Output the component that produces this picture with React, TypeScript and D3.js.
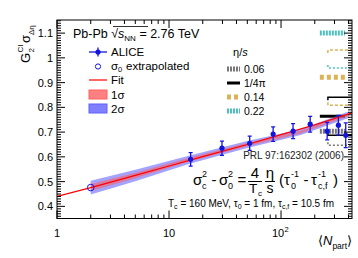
import React from 'react'
import * as d3 from 'd3'

// ALICE points, Pb-Pb 2.76 TeV
const npart = [15.6, 29.7, 52.5, 85, 128, 182, 258, 325, 378]
const g2Width = [0.590, 0.635, 0.655, 0.692, 0.704, 0.732, 0.704, 0.728, 0.687]
const g2Err = [0.027, 0.029, 0.029, 0.029, 0.030, 0.032, 0.035, 0.040, 0.050]

// sigma_0 extrapolated
const extrapN = [2]
const extrapVal = [0.476]

// fit curve and bands
const fitN = [1, 2, 5, 10, 20, 50, 100, 200, 430]
const fitVal = [0.440, 0.476, 0.525, 0.563, 0.601, 0.650, 0.690, 0.729, 0.778]
const bandN = [2, 5, 15, 50, 150, 400]
const band2Lo = [0.448, 0.502, 0.571, 0.636, 0.688, 0.757]
const band2Hi = [0.504, 0.548, 0.605, 0.664, 0.712, 0.783]
const band1Lo = [0.462, 0.514, 0.580, 0.643, 0.694, 0.764]
const band1Hi = [0.490, 0.536, 0.596, 0.657, 0.706, 0.776]

// hydro predictions for several eta/s
const etaLabels = ['0.06', '1/4\u03c0', '0.14', '0.22']
const hydroFilled = [0.704, 0.764, 0.922, 1.100]
const hydroOpenLo = [0.647, 0.687, 0.809, 0.959]
const hydroOpenHi = [null, 0.841, 1.032, null]
const hydroFilledRange = [222, 372]
const hydroOpenRange = [262, 470]

const xMajor = [1, 10, 100]
const xMinor = [2, 3, 4, 5, 6, 7, 8, 9, 20, 30, 40, 50, 60, 70, 80, 90, 200, 300, 400]
const yMajor = [0.4, 0.5, 0.6, 0.7, 0.8, 0.9, 1, 1.1]

const etaColors = ['#777777', '#000000', '#d9b356', '#4fc0c0']
const etaWidth = [5, 3, 5, 5]
const etaDash = ['2 1', null, '4 3', '2 1']
const openDash = ['2 2', null, '3 2', '2 2']

const FONT = '"Liberation Sans", Arial, sans-serif'
const BLUE = '#1414e0'

export default function App() {
  const x = d3.scaleLog().domain([1, 430]).range([57, 352])
  const y = d3.scaleLinear().domain([0.351, 1.153]).range([218.5, 20])
  const [x0, x1] = x.range()
  const [yb, yt] = y.range()

  const yMinor = d3.range(36, 116).map(v => v / 100).filter(v => Math.round(v * 100) % 10 !== 0)

  const line = d3.line<number>().x((d, i) => x(fitN[i])).y(d => y(d))
  const area2 = d3.area<number>().x((d, i) => x(bandN[i])).y0((d, i) => y(band2Lo[i])).y1((d, i) => y(band2Hi[i]))
  const area1 = d3.area<number>().x((d, i) => x(bandN[i])).y0((d, i) => y(band1Lo[i])).y1((d, i) => y(band1Hi[i]))

  const legY = [52, 66.5, 80, 94.5, 108.5]
  const etaLegY = [69, 83, 97, 111]

  return (
    <svg width={358} height={258} style={{ position: 'absolute', left: 0, top: 0, background: '#fff' }} fontFamily={FONT}>
      <defs>
        <clipPath id="plot"><rect x={x0} y={yt} width={x1 - x0} height={yb - yt} /></clipPath>
      </defs>

      <g clipPath="url(#plot)">
        {/* hydro filled */}
        {hydroFilled.map((v, i) => (
          <line key={'hf' + i} x1={x(hydroFilledRange[0])} x2={x(hydroFilledRange[1])} y1={y(v)} y2={y(v)}
            stroke={etaColors[i]} strokeWidth={etaWidth[i]} strokeDasharray={etaDash[i] ?? undefined} />
        ))}
        {/* hydro open brackets */}
        {hydroOpenLo.map((v, i) => {
          const xa = x(hydroOpenRange[0]), xb = x(hydroOpenRange[1])
          return (
            <path key={'hl' + i} d={`M${xa},${y(v) - 3}V${y(v)}H${xb}`} fill="none"
              stroke={etaColors[i]} strokeWidth={1.5} strokeDasharray={openDash[i] ?? undefined} />
          )
        })}
        {hydroOpenHi.map((v, i) => {
          if (v == null) return null
          const xa = x(hydroOpenRange[0]), xb = x(hydroOpenRange[1])
          return (
            <path key={'hh' + i} d={`M${xa},${y(v) + 3}V${y(v)}H${xb}`} fill="none"
              stroke={etaColors[i]} strokeWidth={1.5} strokeDasharray={openDash[i] ?? undefined} />
          )
        })}

        <path d={area2(band2Lo) ?? ''} fill="#5a5aff" fillOpacity={0.55} />
        <path d={area1(band1Lo) ?? ''} fill="#ff5a5a" fillOpacity={0.55} />
        <path d={line(fitVal) ?? ''} fill="none" stroke="#ff0000" strokeWidth={1.2} />

        {extrapN.map((n, i) => (
          <circle key={'e' + i} cx={x(n)} cy={y(extrapVal[i])} r={3.3} fill="none" stroke={BLUE} strokeWidth={1} />
        ))}

        {npart.map((n, i) => {
          const cx = x(n)
          const top = y(g2Width[i] + g2Err[i]), bot = y(g2Width[i] - g2Err[i])
          return (
            <g key={'p' + i} stroke={BLUE} strokeWidth={1.3}>
              <line x1={cx} x2={cx} y1={top} y2={bot} />
              <line x1={cx - 2} x2={cx + 2} y1={top} y2={top} />
              <line x1={cx - 2} x2={cx + 2} y1={bot} y2={bot} />
              <circle cx={cx} cy={y(g2Width[i])} r={2.6} fill={BLUE} stroke="none" />
            </g>
          )
        })}
      </g>

      {/* frame and ticks */}
      <rect x={x0} y={yt} width={x1 - x0} height={yb - yt} fill="none" stroke="#000" strokeWidth={1} />
      <g stroke="#000" strokeWidth={1}>
        {xMajor.map(v => (
          <g key={'xM' + v}>
            <line x1={x(v)} x2={x(v)} y1={yb} y2={yb - 8} />
            <line x1={x(v)} x2={x(v)} y1={yt} y2={yt + 8} />
          </g>
        ))}
        {xMinor.map(v => (
          <g key={'xm' + v}>
            <line x1={x(v)} x2={x(v)} y1={yb} y2={yb - 4} />
            <line x1={x(v)} x2={x(v)} y1={yt} y2={yt + 4} />
          </g>
        ))}
        {yMajor.map(v => (
          <g key={'yM' + v}>
            <line x1={x0} x2={x0 + 8} y1={y(v)} y2={y(v)} />
            <line x1={x1} x2={x1 - 8} y1={y(v)} y2={y(v)} />
          </g>
        ))}
        {yMinor.map(v => (
          <g key={'ym' + v}>
            <line x1={x0} x2={x0 + 4} y1={y(v)} y2={y(v)} />
            <line x1={x1} x2={x1 - 4} y1={y(v)} y2={y(v)} />
          </g>
        ))}
      </g>

      {/* tick labels */}
      <g fontSize={11} fill="#000">
        {yMajor.map(v => (
          <text key={'yl' + v} x={x0 - 4} y={y(v) + 4} textAnchor="end">{d3.format('~g')(v)}</text>
        ))}
        <text x={x(1)} y={237} textAnchor="middle">1</text>
        <text x={x(10)} y={237} textAnchor="middle">10</text>
        <text x={x(100) - 3} y={237} textAnchor="middle">10</text>
        <text x={x(100) + 3.5} y={232} fontSize={7.5}>2</text>
      </g>

      {/* axis titles */}
      <g transform="translate(30,63) rotate(-90)">
        <text x={0} y={0} fontSize={13}>G</text>
        <text x={10.5} y={-7} fontSize={8}>CI</text>
        <text x={10.5} y={3.5} fontSize={8}>2</text>
        <text x={20} y={0} fontSize={13}>{'\u03c3'}</text>
        <text x={28} y={3.5} fontSize={8}>{'\u0394\u03b7'}</text>
      </g>
      <text x={318} y={245} fontSize={13}>
        {'\u27e8'}<tspan fontStyle="italic">N</tspan><tspan fontSize={8.5} dy={4}>part</tspan><tspan dy={-4}>{'\u27e9'}</tspan>
      </text>

      {/* header */}
      <text x={73} y={38} fontSize={12.5}>
        Pb-Pb <tspan>{'\u221a'}</tspan><tspan fontStyle="italic">s</tspan><tspan fontSize={8} dy={3}>NN</tspan><tspan dy={-3}> = 2.76 TeV</tspan>
      </text>
      <path d="M113,26.5 H148" stroke="#000" strokeWidth={0.8} />

      {/* left legend */}
      <g fontSize={11.5}>
        <line x1={89} x2={107} y1={legY[0]} y2={legY[0]} stroke={BLUE} strokeWidth={1.3} />
        <line x1={98} x2={98} y1={legY[0] - 4.5} y2={legY[0] + 4.5} stroke={BLUE} strokeWidth={1.3} />
        <circle cx={98} cy={legY[0]} r={2.6} fill={BLUE} />
        <text x={111} y={legY[0] + 4}>ALICE</text>

        <circle cx={98} cy={legY[1]} r={2.6} fill="none" stroke={BLUE} />
        <text x={111} y={legY[1] + 3.5}>{'\u03c3'}</text>
        <text x={118} y={legY[1] + 5.5} fontSize={7.5}>0</text>
        <text x={126} y={legY[1] + 3.5}>extrapolated</text>

        <line x1={89} x2={107} y1={legY[2]} y2={legY[2]} stroke="#ff0000" strokeWidth={1.2} />
        <text x={111} y={legY[2] + 4}>Fit</text>

        <rect x={89} y={legY[3] - 4.5} width={18} height={9} fill="#ff8080" stroke="#ff6060" />
        <text x={111} y={legY[3] + 4}>1{'\u03c3'}</text>

        <rect x={89} y={legY[4] - 4.5} width={18} height={9} fill="#8080ff" stroke="#6060ff" />
        <text x={111} y={legY[4] + 4}>2{'\u03c3'}</text>
      </g>

      {/* eta/s legend */}
      <g fontSize={10.5}>
        <text x={233} y={56} fontSize={11}>{'\u03b7'}/<tspan fontStyle="italic">s</tspan></text>
        {etaLabels.map((l, i) => (
          <g key={'el' + i}>
            <line x1={227} x2={240} y1={etaLegY[i]} y2={etaLegY[i]} stroke={etaColors[i]}
              strokeWidth={etaWidth[i]} strokeDasharray={etaDash[i] ?? undefined} />
            <text x={244} y={etaLegY[i] + 4}>{l}</text>
          </g>
        ))}
      </g>

      {/* reference and formula */}
      <text x={344} y={159} fontSize={10} textAnchor="end" fill="#222">PRL 97:162302 (2006)</text>

      <g fontSize={15}>
        <text x={193} y={185}>{'\u03c3'}</text>
        <text x={202} y={188.5} fontSize={9}>c</text>
        <text x={202} y={177} fontSize={9}>2</text>
        <text x={211.5} y={185}>-</text>
        <text x={219} y={185}>{'\u03c3'}</text>
        <text x={228} y={188.5} fontSize={9}>0</text>
        <text x={228} y={177} fontSize={9}>2</text>
        <text x={237.5} y={185}>=</text>

        <text x={255} y={178} textAnchor="middle">4</text>
        <line x1={248} x2={262} y1={181.5} y2={181.5} stroke="#000" strokeWidth={1} />
        <text x={253} y={193} textAnchor="middle" fontSize={13.5}>T</text>
        <text x={258} y={195.5} fontSize={8}>c</text>

        <text x={270} y={178} textAnchor="middle">{'\u03b7'}</text>
        <line x1={265} x2={275} y1={181.5} y2={181.5} stroke="#000" strokeWidth={1} />
        <text x={270} y={193} textAnchor="middle" fontSize={14}>s</text>

        <text x={279} y={185}>(</text>
        <text x={284} y={185}>{'\u03c4'}</text>
        <text x={291} y={188.5} fontSize={9}>0</text>
        <text x={291} y={177} fontSize={9}>-1</text>
        <text x={303.5} y={185}>-</text>
        <text x={311} y={185}>{'\u03c4'}</text>
        <text x={318} y={188.5} fontSize={9}>c,f</text>
        <text x={318} y={177} fontSize={9}>-1</text>
        <text x={333} y={185}>)</text>
      </g>

      <text x={168} y={207} fontSize={10}>
        T<tspan fontSize={7} dy={2}>c</tspan><tspan dy={-2}> = 160 MeV, {'\u03c4'}</tspan><tspan fontSize={7} dy={2}>0</tspan>
        <tspan dy={-2}> = 1 fm, {'\u03c4'}</tspan><tspan fontSize={7} dy={2}>c,f</tspan><tspan dy={-2}> = 10.5 fm</tspan>
      </text>
    </svg>
  )
}
